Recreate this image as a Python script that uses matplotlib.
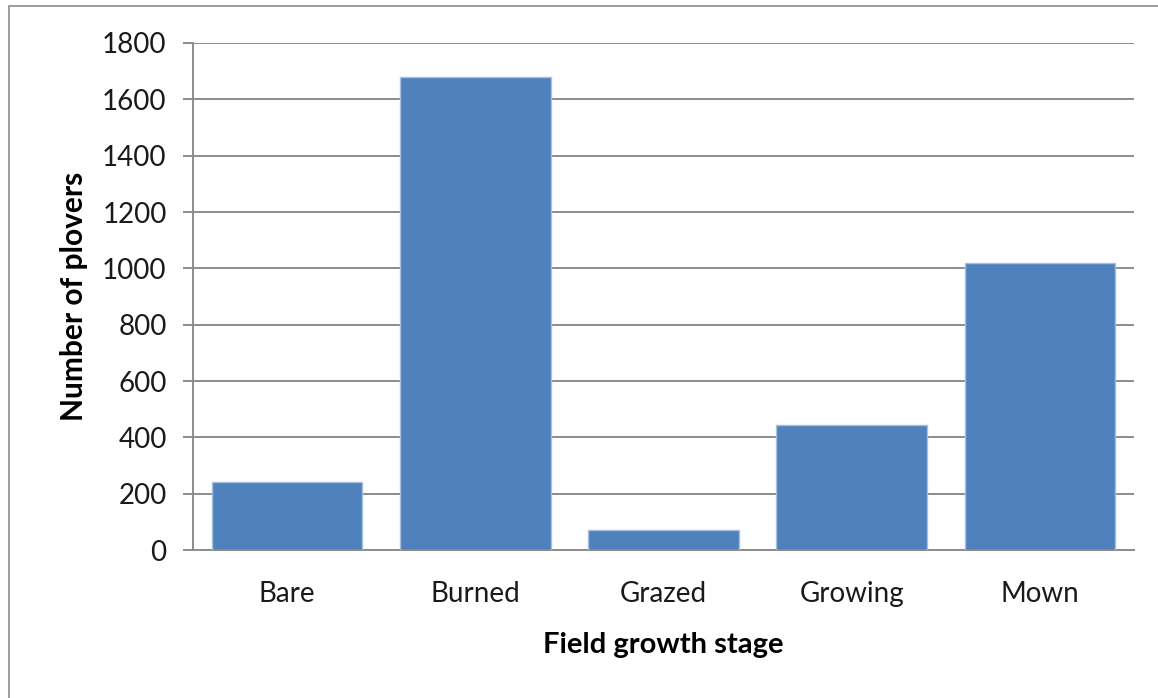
import matplotlib
matplotlib.use('Agg')
import matplotlib.pyplot as plt
from matplotlib.patches import Rectangle


stages = ['Bare', 'Burned', 'Grazed', 'Growing', 'Mown']
plovers = [242, 1678, 71, 444, 1020]
y_ticks = [0, 200, 400, 600, 800, 1000, 1200, 1400, 1600, 1800]


def main():
    plt.rcParams['font.family'] = ['Lato', 'DejaVu Sans']

    fig = plt.figure(figsize=(11.58, 6.98), dpi=100)
    ax = fig.add_axes([0.1667, 0.212, 0.8126, 0.7264])

    # chart frame, open on the right and bottom
    fig.patches.append(Rectangle((0.0078, -0.1), 1.2, 1.0914, transform=fig.transFigure,
                                 fill=False, edgecolor='#8c8c8c', linewidth=1.2))

    x = range(len(stages))
    ax.bar(x, plovers, width=0.8, color='#4f81bd', edgecolor='#a7bfdd', linewidth=1.0, zorder=3)

    ax.set_xlim(-0.5, len(stages) - 0.5)
    ax.set_ylim(0, 1800)
    ax.set_yticks(y_ticks)
    ax.set_xticks(list(x))
    ax.set_xticklabels(stages)

    ax.grid(axis='y', color='#8c8c8c', linewidth=1.4, zorder=0)
    for s in ['top', 'right']:
        ax.spines[s].set_visible(False)
    ax.spines['left'].set_color('#8c8c8c')
    ax.spines['left'].set_linewidth(1.4)
    ax.spines['bottom'].set_color('#8c8c8c')
    ax.spines['bottom'].set_linewidth(1.4)

    ax.tick_params(axis='y', direction='out', length=7, width=1.4, color='#8c8c8c',
                   labelsize=20, pad=12, labelcolor='#1a1a1a')
    ax.tick_params(axis='x', length=0, labelsize=20, pad=22, labelcolor='#1a1a1a')

    ax.set_xlabel('Field growth stage', fontsize=21, fontweight='bold', labelpad=18)
    ax.set_ylabel('Number of plovers', fontsize=21.5, fontweight='bold', labelpad=10)

    fig.savefig('out.png', dpi=100)


if __name__ == '__main__':
    main()
